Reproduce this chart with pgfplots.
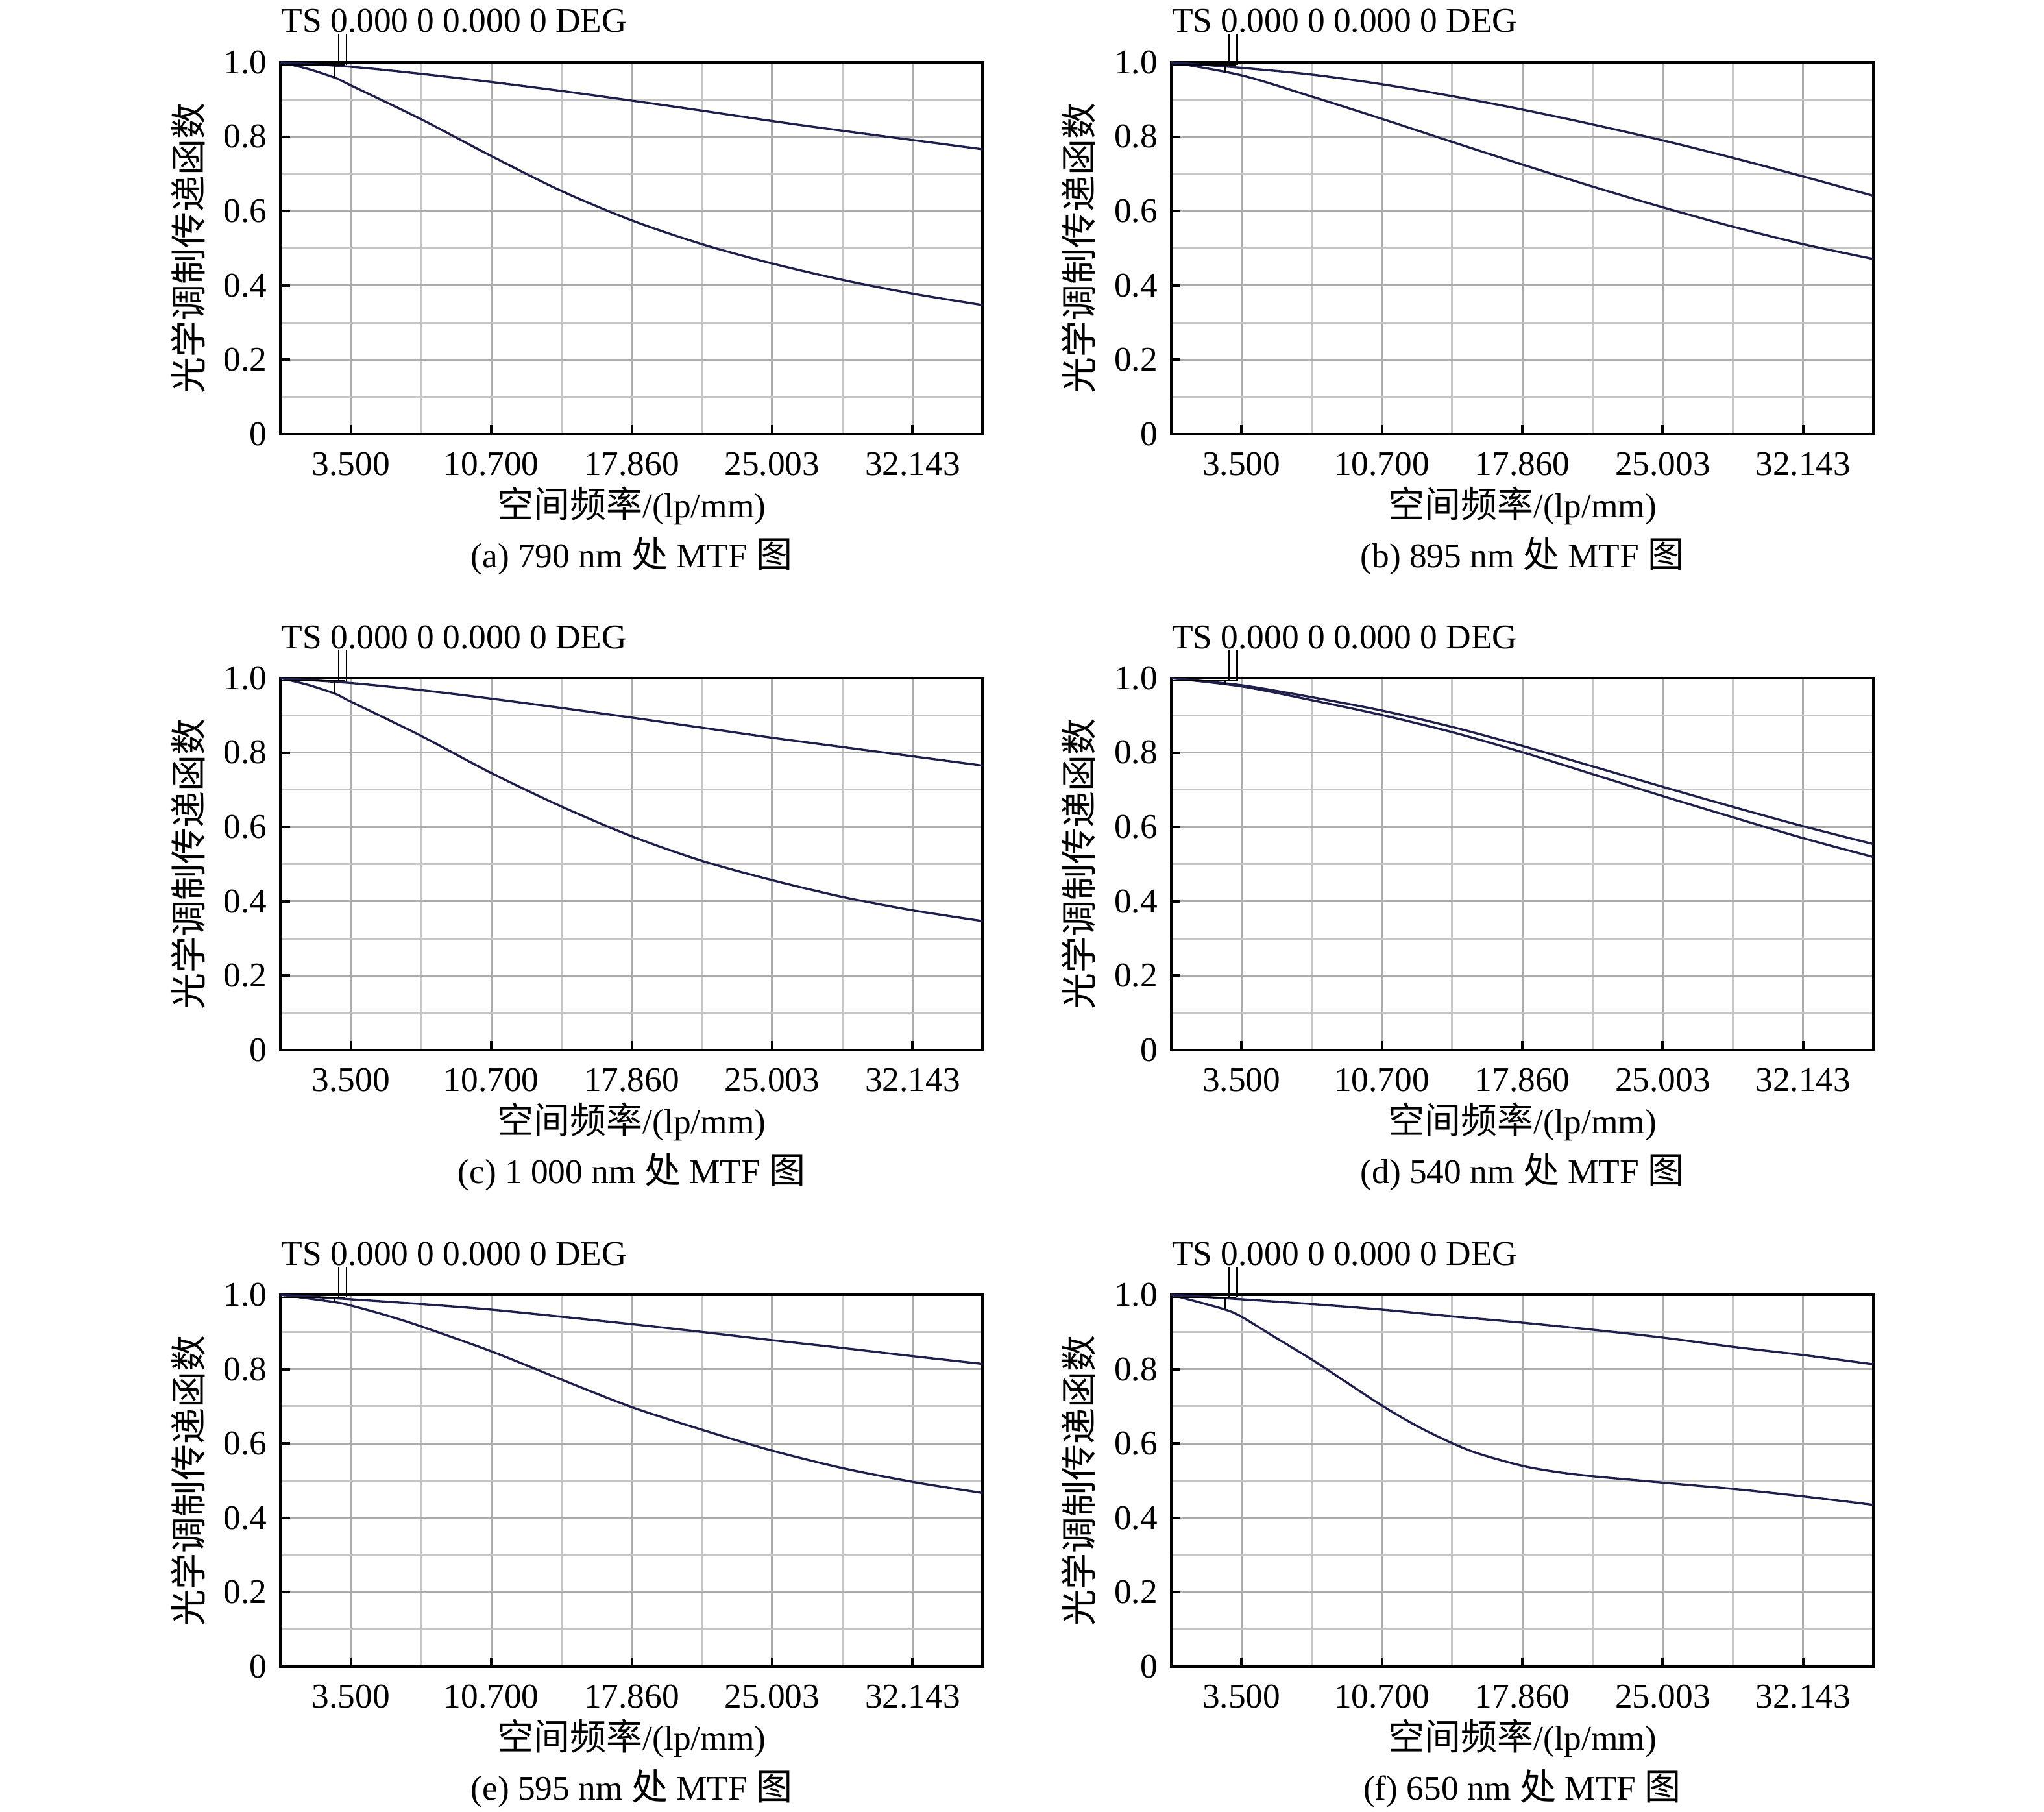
\documentclass[border=0pt]{standalone}
\usepackage{fontspec}
\setmainfont{Liberation Serif}
\newfontfamily\cjk{Noto Sans CJK SC}
\usepackage{pgfplots}
\pgfplotsset{compat=1.18}
\newcommand\fs{\fontsize{8pt}{9.6pt}\selectfont}
\newcommand\fc{\fontsize{8.4pt}{9.6pt}\selectfont}
\definecolor{curve}{rgb}{0.12,0.12,0.30}
\pgfplotsset{mtf/.style={
  scale only axis, width=162.3pt, height=85.95pt, anchor=south west,
  xmin=0, xmax=35.7143, ymin=0, ymax=1,
  xtick={3.5714,10.7143,17.8571,25.0,32.1429},
  xticklabels={3.500,10.700,17.860,25.003,32.143},
  minor xtick={7.1429,14.2857,21.4286,28.5714},
  ytick={0,0.2,0.4,0.6,0.8,1.0},
  yticklabels={0,0.2,0.4,0.6,0.8,1.0},
  minor ytick={0.1,0.3,0.5,0.7,0.9},
  grid=both,
  major grid style={gray!65, line width=0.45pt},
  minor grid style={gray!45, line width=0.45pt},
  tick pos=left, tick align=inside,
  major tick length=2.1pt, minor tick length=0pt,
  major tick style={black, line width=0.6pt},
  axis line style={black, line width=0.7pt},
  clip=false,
  xticklabel style={font=\fs, anchor=center, yshift=-6.9pt},
  yticklabel style={font=\fs, anchor=east, inner sep=0pt, xshift=-3pt},
  every axis title shift=0pt,
  title={TS 0.000 0 0.000 0 DEG},
  title style={font=\fs, at={(axis description cs:0,1)}, anchor=base west, inner sep=0pt, yshift=6.9pt},
  xlabel={{\cjk\fc 空间频率}/(lp/mm)},
  xlabel style={font=\fs, at={(axis description cs:0.5,-0.192)}, anchor=center},
  ylabel={{\cjk\fc 光学调制传递函数}},
  ylabel style={font=\fs, at={(axis description cs:-0.1317,0.5)}, anchor=center},
  cycle list={{curve,no marks},{curve,no marks}},
  every axis plot/.append style={line width=0.5pt, smooth},
}}
\newcommand\marker[1]{%
  \draw[black, line width=0.4pt] (axis cs:0,0.993) -- (axis cs:3.3,0.993);
  \draw[black, line width=0.4pt] (axis cs:2.75,0.993) -- (axis cs:2.75,#1);
  \draw[black, line width=0.4pt] (axis cs:2.95,0.993) -- (axis cs:2.95,1.075);
  \draw[black, line width=0.4pt] (axis cs:3.35,0.993) -- (axis cs:3.35,1.075);
}
\begin{document}
\begin{tikzpicture}
\path[use as bounding box] (0,0) rectangle (472.5pt,418.65pt);
% (a)
\begin{axis}[mtf, at={(64.875pt,318.3pt)}]
\addplot coordinates {(0,1.0) (3.5714,0.988) (7.1429,0.969) (10.7143,0.947) (14.2857,0.923) (17.8571,0.897) (21.4286,0.870) (25.0,0.842) (28.5714,0.816) (32.1429,0.791) (35.7143,0.766)};
\addplot coordinates {(0,1.0) (1.4,0.982) (2.78,0.958) (3.5714,0.938) (7.1429,0.847) (10.7143,0.748) (14.2857,0.654) (17.8571,0.575) (21.4286,0.511) (25.0,0.459) (28.5714,0.415) (32.1429,0.378) (35.7143,0.347)};
\marker{0.958}
\node[font=\fs] at (axis description cs:0.5,-0.328) {(a) 790 nm {\cjk\fc 处} MTF {\cjk\fc 图}};
\end{axis}
% (b)
\begin{axis}[mtf, at={(270.75pt,318.3pt)}]
\addplot coordinates {(0,1.0) (3.5714,0.985) (7.1429,0.967) (10.7143,0.941) (14.2857,0.909) (17.8571,0.873) (21.4286,0.833) (25.0,0.790) (28.5714,0.743) (32.1429,0.693) (35.7143,0.641)};
\addplot coordinates {(0,1.0) (3.5714,0.965) (7.1429,0.908) (10.7143,0.848) (14.2857,0.786) (17.8571,0.725) (21.4286,0.666) (25.0,0.610) (28.5714,0.558) (32.1429,0.511) (35.7143,0.471)};
\marker{0.972}
\node[font=\fs] at (axis description cs:0.5,-0.328) {(b) 895 nm {\cjk\fc 处} MTF {\cjk\fc 图}};
\end{axis}
% (c)
\begin{axis}[mtf, at={(64.875pt,175.95pt)}]
\addplot coordinates {(0,1.0) (3.5714,0.987) (7.1429,0.968) (10.7143,0.945) (14.2857,0.920) (17.8571,0.894) (21.4286,0.867) (25.0,0.840) (28.5714,0.815) (32.1429,0.790) (35.7143,0.765)};
\addplot coordinates {(0,1.0) (1.4,0.982) (2.78,0.958) (3.5714,0.937) (7.1429,0.845) (10.7143,0.745) (14.2857,0.655) (17.8571,0.575) (21.4286,0.509) (25.0,0.457) (28.5714,0.412) (32.1429,0.376) (35.7143,0.347)};
\marker{0.958}
\node[font=\fs] at (axis description cs:0.5,-0.328) {(c) 1 000 nm {\cjk\fc 处} MTF {\cjk\fc 图}};
\end{axis}
% (d)
\begin{axis}[mtf, at={(270.75pt,175.95pt)}]
\addplot coordinates {(0,1.0) (3.5714,0.981) (7.1429,0.949) (10.7143,0.913) (14.2857,0.869) (17.8571,0.818) (21.4286,0.763) (25.0,0.708) (28.5714,0.654) (32.1429,0.602) (35.7143,0.554)};
\addplot coordinates {(0,1.0) (3.5714,0.978) (7.1429,0.941) (10.7143,0.901) (14.2857,0.855) (17.8571,0.801) (21.4286,0.742) (25.0,0.683) (28.5714,0.626) (32.1429,0.570) (35.7143,0.519)};
\marker{0.982}
\node[font=\fs] at (axis description cs:0.5,-0.328) {(d) 540 nm {\cjk\fc 处} MTF {\cjk\fc 图}};
\end{axis}
% (e)
\begin{axis}[mtf, at={(64.875pt,33.45pt)}]
\addplot coordinates {(0,1.0) (3.5714,0.988) (7.1429,0.975) (10.7143,0.960) (14.2857,0.941) (17.8571,0.921) (21.4286,0.900) (25.0,0.878) (28.5714,0.857) (32.1429,0.835) (35.7143,0.814)};
\addplot coordinates {(0,1.0) (2.66,0.981) (3.5714,0.971) (5.36,0.945) (7.1429,0.915) (10.7143,0.848) (14.2857,0.772) (17.8571,0.698) (21.4286,0.637) (25.0,0.581) (28.5714,0.534) (32.1429,0.497) (35.7143,0.467)};
\marker{0.981}
\node[font=\fs] at (axis description cs:0.5,-0.328) {(e) 595 nm {\cjk\fc 处} MTF {\cjk\fc 图}};
\end{axis}
% (f)
\begin{axis}[mtf, at={(270.75pt,33.45pt)}]
\addplot coordinates {(0,1.0) (3.5714,0.988) (7.1429,0.975) (10.7143,0.960) (14.2857,0.942) (17.8571,0.925) (21.4286,0.906) (25.0,0.885) (28.5714,0.860) (32.1429,0.838) (35.7143,0.813)};
\addplot coordinates {(0,1.0) (2.63,0.962) (3.5714,0.941) (5.27,0.886) (7.1429,0.826) (8.93,0.764) (10.7143,0.702) (12.5,0.647) (14.2857,0.601) (15.68,0.572) (17.8571,0.540) (19.56,0.524) (21.4286,0.512) (25.0,0.495) (28.5714,0.478) (32.1429,0.458) (35.7143,0.435)};
\marker{0.962}
\node[font=\fs] at (axis description cs:0.5,-0.328) {(f) 650 nm {\cjk\fc 处} MTF {\cjk\fc 图}};
\end{axis}
\end{tikzpicture}
\end{document}
